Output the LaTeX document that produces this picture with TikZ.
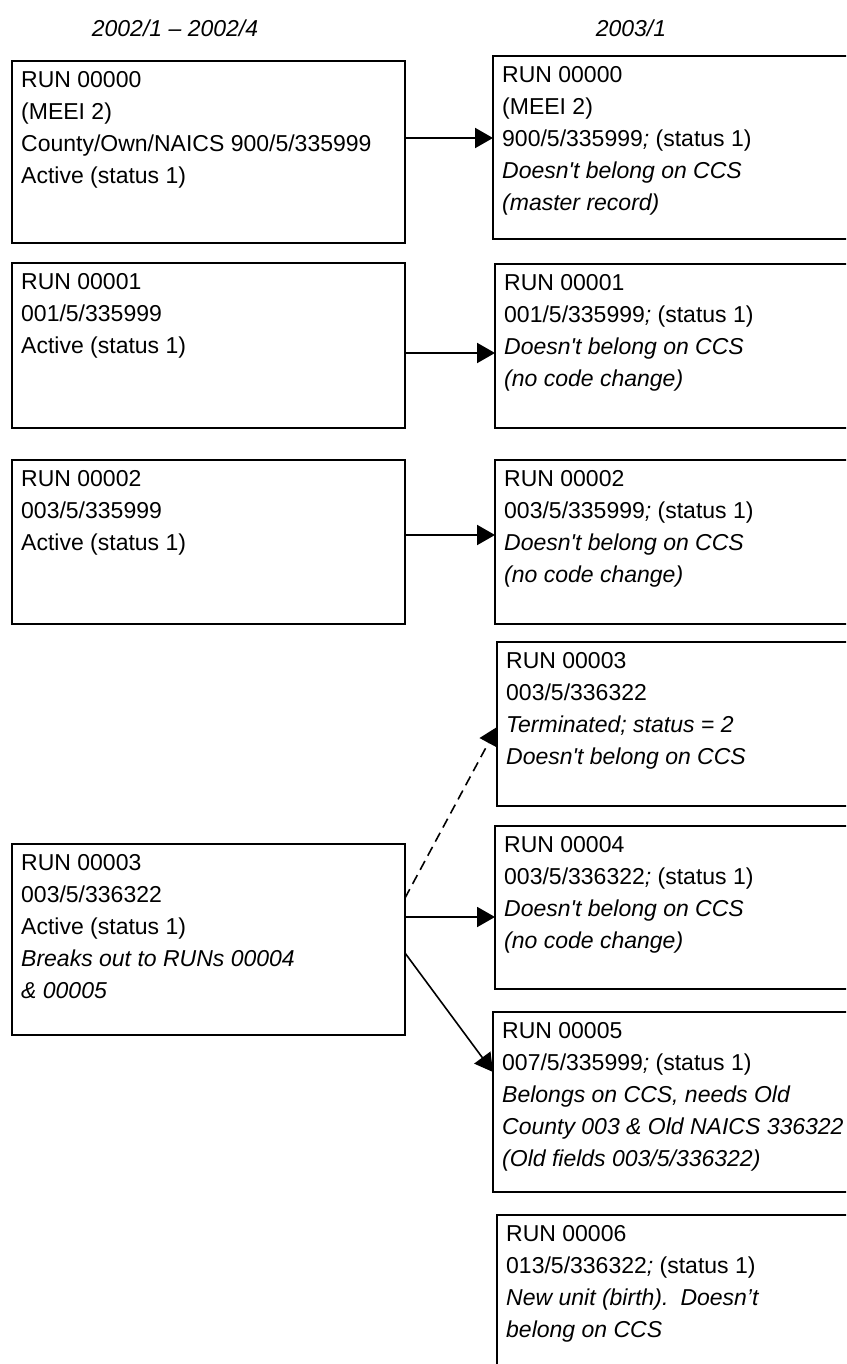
\documentclass[tikz,border=0pt]{standalone}
\usepackage{fontspec}
\setmainfont{Liberation Sans}
\usetikzlibrary{arrows.meta}
\newcommand{\sqt}{\textquotesingle}
\newcommand{\fl}{\rule{0pt}{17pt}}
\begin{document}
\begin{tikzpicture}[x=1pt,y=-1pt,
  box/.style={draw, line width=2pt, rectangle, inner sep=0pt, outer sep=0pt, anchor=north west},
  txt/.style={anchor=north west, inner sep=0pt, align=left, font=\fontsize{23}{32}\selectfont},
  hdr/.style={anchor=base, inner sep=0pt, font=\fontsize{23}{32}\selectfont\itshape},
  arr/.style={line width=2pt, -{Triangle[length=18pt,width=20pt]}},
  darr/.style={line width=1.6pt, dash pattern=on 10pt off 6pt, -{Triangle[length=18pt,width=20pt]}}]
\useasboundingbox (0,0) rectangle (846,1364);
\clip (0,0) rectangle (846,1364);

% headers
\node[hdr] (h1) at (175,37) {2002/1 – 2002/4};
\node[hdr] (h2) at (631,37) {2003/1};

% left column boxes
\node[box, minimum width=393pt, minimum height=182pt] (L0) at (12,61) {};
\node[box, minimum width=393pt, minimum height=165pt] (L1) at (12,263) {};
\node[box, minimum width=393pt, minimum height=164pt] (L2) at (12,460) {};
\node[box, minimum width=393pt, minimum height=191pt] (L3) at (12,844) {};

% right column boxes
\node[box, minimum width=370pt, minimum height=183pt] (R0) at (493,56) {};
\node[box, minimum width=370pt, minimum height=164pt] (R1) at (495,264) {};
\node[box, minimum width=370pt, minimum height=164pt] (R2) at (495,460) {};
\node[box, minimum width=370pt, minimum height=164pt] (R3) at (497,642) {};
\node[box, minimum width=370pt, minimum height=163pt] (R4) at (495,826) {};
\node[box, minimum width=370pt, minimum height=180pt] (R5) at (493,1012) {};
\node[box, minimum width=370pt, minimum height=190pt] (R6) at (497,1215) {};

% texts
\node[txt] (tL0) at (21,70) {\fl RUN 00000\\(MEEI 2)\\County/Own/NAICS 900/5/335999\\Active (status 1)};
\node[txt] (tL1) at (21,272) {\fl RUN 00001\\001/5/335999\\Active (status 1)};
\node[txt] (tL2) at (21,469) {\fl RUN 00002\\003/5/335999\\Active (status 1)};
\node[txt] (tL3) at (21,853) {\fl RUN 00003\\003/5/336322\\Active (status 1)\\\textit{Breaks out to RUNs 00004}\\\textit{\& 00005}};

\node[txt] (tR0) at (502,65) {\fl RUN 00000\\(MEEI 2)\\900/5/335999\textit{;} (status 1)\\\textit{Doesn\sqt t belong on CCS}\\\textit{(master record)}};
\node[txt] (tR1) at (504,273) {\fl RUN 00001\\001/5/335999\textit{;} (status 1)\\\textit{Doesn\sqt t belong on CCS}\\\textit{(no code change)}};
\node[txt] (tR2) at (504,469) {\fl RUN 00002\\003/5/335999\textit{;} (status 1)\\\textit{Doesn\sqt t belong on CCS}\\\textit{(no code change)}};
\node[txt] (tR3) at (506,651) {\fl RUN 00003\\003/5/336322\\\textit{Terminated; status = 2}\\\textit{Doesn\sqt t belong on CCS}};
\node[txt] (tR4) at (504,835) {\fl RUN 00004\\003/5/336322\textit{;} (status 1)\\\textit{Doesn\sqt t belong on CCS}\\\textit{(no code change)}};
\node[txt] (tR5) at (502,1021) {\fl RUN 00005\\007/5/335999\textit{;} (status 1)\\\textit{Belongs on CCS, needs Old}\\\textit{County 003 \& Old NAICS 336322}\\\textit{(Old fields 003/5/336322)}};
\node[txt] (tR6) at (506,1224) {\fl RUN 00006\\013/5/336322\textit{;} (status 1)\\\textit{New unit (birth).\hspace{12pt}Doesn’t}\\\textit{belong on CCS}};

% arrow levels
\coordinate (y0) at (0,138);
\coordinate (y1) at (0,353);
\coordinate (y2) at (0,535);
\coordinate (y4) at (0,917);
\coordinate (yd1) at (0,898);
\coordinate (yd2) at (0,727);
\coordinate (ys1) at (0,953);
\coordinate (ys2) at (0,1072);

% connectors
\draw[arr] (L0.east |- y0) -- (R0.west |- y0);
\draw[arr] (L1.east |- y1) -- (R1.west |- y1);
\draw[arr] (L2.east |- y2) -- (R2.west |- y2);
\draw[arr] (L3.east |- y4) -- (R4.west |- y4);
\draw[darr] (L3.east |- yd1) -- (R3.west |- yd2);
\draw[arr, line width=1.6pt] (L3.east |- ys1) -- (R5.west |- ys2);
\end{tikzpicture}
\end{document}
